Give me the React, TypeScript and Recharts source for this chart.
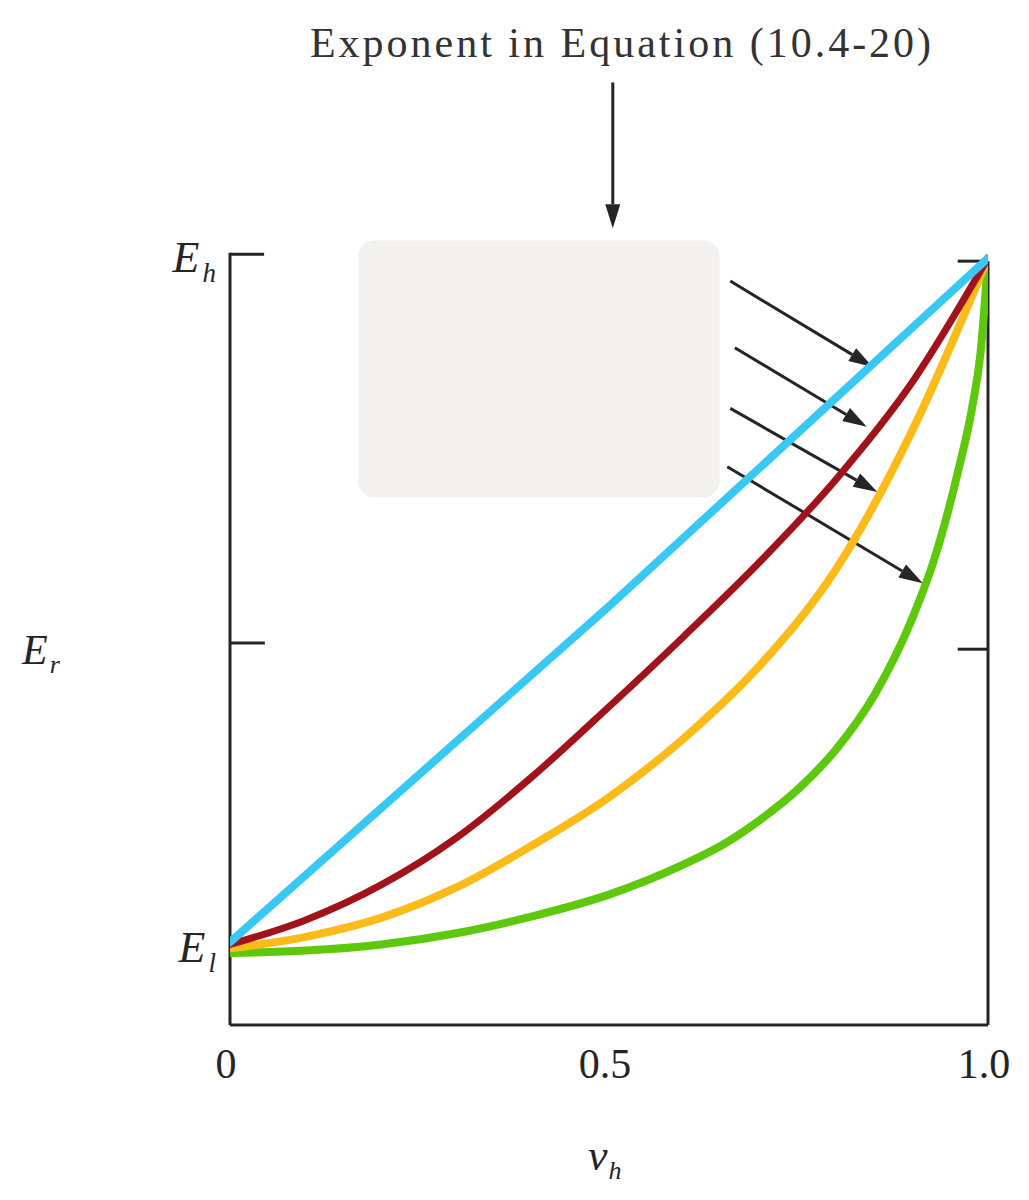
import React from 'react';
import { LineChart, Line, XAxis, YAxis, ReferenceLine, ReferenceArea } from 'recharts';

// ---- data (x = v_h, y = normalised E_r, E_l ~ 0.1, E_h = 1) ----
const gridT = [0, 0.1, 0.2, 0.3, 0.4, 0.5, 0.6, 0.7, 0.8, 0.9, 1.0];
const redValues = [0.105, 0.137, 0.183, 0.245, 0.325, 0.415, 0.508, 0.605, 0.712, 0.838, 1.0];
const yellowValues = [0.1, 0.115, 0.14, 0.18, 0.235, 0.297, 0.375, 0.47, 0.595, 0.775, 1.0];
const greenT = [0, 0.1, 0.2, 0.3, 0.4, 0.5, 0.6, 0.65, 0.7, 0.75, 0.8, 0.85, 0.9, 0.93, 0.96, 0.98, 0.99, 1.0];
const greenValues = [0.094, 0.097, 0.105, 0.12, 0.142, 0.17, 0.21, 0.235, 0.268, 0.308, 0.36, 0.43, 0.53, 0.61, 0.72, 0.81, 0.875, 1.0];
const blueT = [0, 0.5, 1.0];
const blueValues = [0.108, 0.546, 1.0];

const xTicks = [0, 0.5, 1.0];
const xTickLabels = ['0', '0.5', '1.0'];
const yTicks = [0.1, 1.0];
const yTickSubscripts = ['l', 'h'];

const titleText = 'Exponent in Equation (10.4-20)';

// annotation arrows (data coordinates): start -> tip
const arrowStartT = [0.66, 0.666, 0.66, 0.656];
const arrowStartV = [0.97, 0.883, 0.804, 0.728];
const arrowTipT = [0.848, 0.84, 0.854, 0.914];
const arrowTipV = [0.858, 0.78, 0.695, 0.576];
const titleArrow = { t: 0.505, from: 1.229, to: 1.039 };
const maskBox = { t1: 0.169, t2: 0.646, v1: 0.688, v2: 1.023 };

const build = (ts: number[], vs: number[]) => ts.map((t, i) => ({ t, v: vs[i] }));
const redData = build(gridT, redValues);
const yellowData = build(gridT, yellowValues);
const greenData = build(greenT, greenValues);
const blueData = build(blueT, blueValues);

const SERIF = '"Liberation Serif", "DejaVu Serif", serif';
const INK = '#252525';

const ArrowShape = (p: any) => {
  const { x1, y1, x2, y2 } = p;
  if ([x1, y1, x2, y2].some((v) => typeof v !== 'number' || isNaN(v))) return null;
  const dx = x2 - x1;
  const dy = y2 - y1;
  const len = Math.sqrt(dx * dx + dy * dy) || 1;
  const ux = dx / len;
  const uy = dy / len;
  const headL = 24;
  const headW = 7.5;
  const bx = x2 - ux * headL;
  const by = y2 - uy * headL;
  const pts = `${x2},${y2} ${bx - uy * headW},${by + ux * headW} ${bx + uy * headW},${by - ux * headW}`;
  return (
    <g>
      <line x1={x1} y1={y1} x2={bx} y2={by} stroke={INK} strokeWidth={3} />
      <polygon points={pts} fill={INK} />
    </g>
  );
};

const XTick = (p: any) => {
  const { x, y, payload } = p;
  const idx = xTicks.indexOf(payload.value);
  return (
    <text x={x - 4} y={y + 45} textAnchor="middle" fontFamily={SERIF} fontSize={42} fill={INK}>
      {idx >= 0 ? xTickLabels[idx] : ''}
    </text>
  );
};

const YTick = (p: any) => {
  const { x, y, payload } = p;
  const idx = yTicks.indexOf(payload.value);
  return (
    <text x={x - 6} y={y + 14} textAnchor="end" fontFamily={SERIF} fontStyle="italic" fontSize={44} fill={INK}>
      E
      <tspan fontSize={27} dy={10} dx={3}>
        {idx >= 0 ? yTickSubscripts[idx] : ''}
      </tspan>
    </text>
  );
};

const MaskShape = (p: any) => (
  <rect x={p.x} y={p.y} width={p.width} height={p.height} rx={16} ry={16} fill="#f2f1f0" />
);

export default function App() {
  return (
    <div style={{ position: 'absolute', left: 0, top: 0, width: 1029, height: 1200, background: '#fff' }}>
      <LineChart
        width={1029}
        height={1200}
        margin={{ top: 28, right: 41, bottom: 0, left: 0 }}
        style={{ position: 'absolute', left: 0, top: 0 }}
      >
        <XAxis
          dataKey="t"
          type="number"
          domain={[0, 1]}
          ticks={xTicks}
          height={175}
          axisLine={{ stroke: INK, strokeWidth: 3 }}
          tickLine={false}
          tick={<XTick />}
          allowDataOverflow
        />
        <YAxis
          dataKey="v"
          type="number"
          domain={[0, 1.3]}
          ticks={yTicks}
          width={230}
          axisLine={false}
          tickLine={false}
          tick={<YTick />}
          allowDataOverflow
        />
        {/* frame: left and right axes with short tick marks */}
        <ReferenceLine segment={[{ x: 0, y: 0 }, { x: 0, y: 1.007 }]} stroke={INK} strokeWidth={3} />
        <ReferenceLine segment={[{ x: 0, y: 1.005 }, { x: 0.045, y: 1.005 }]} stroke={INK} strokeWidth={3} />
        <ReferenceLine segment={[{ x: 0, y: 0.498 }, { x: 0.046, y: 0.498 }]} stroke={INK} strokeWidth={3} />
        <ReferenceLine segment={[{ x: 1, y: 0 }, { x: 1, y: 0.996 }]} stroke={INK} strokeWidth={3} />
        <ReferenceLine segment={[{ x: 0.96, y: 0.996 }, { x: 1, y: 0.996 }]} stroke={INK} strokeWidth={3} />
        <ReferenceLine segment={[{ x: 0.96, y: 0.49 }, { x: 1, y: 0.49 }]} stroke={INK} strokeWidth={3} />

        <ReferenceArea
          x1={maskBox.t1}
          x2={maskBox.t2}
          y1={maskBox.v1}
          y2={maskBox.v2}
          shape={<MaskShape />}
        />

        <ReferenceLine
          segment={[{ x: titleArrow.t, y: titleArrow.from }, { x: titleArrow.t, y: titleArrow.to }]}
          shape={ArrowShape}
        />
        {arrowStartT.map((t, i) => (
          <ReferenceLine
            key={'arr' + i}
            segment={[{ x: t, y: arrowStartV[i] }, { x: arrowTipT[i], y: arrowTipV[i] }]}
            shape={ArrowShape}
          />
        ))}

        <Line data={greenData} dataKey="v" type="monotone" stroke="#5ec80c" strokeWidth={8} dot={false} strokeLinecap="round" isAnimationActive={false} />
        <Line data={yellowData} dataKey="v" type="monotone" stroke="#fdbb1a" strokeWidth={8} dot={false} strokeLinecap="round" isAnimationActive={false} />
        <Line data={redData} dataKey="v" type="monotone" stroke="#a2121b" strokeWidth={7} dot={false} strokeLinecap="round" isAnimationActive={false} />
        <Line data={blueData} dataKey="v" type="linear" stroke="#38c8f4" strokeWidth={8} dot={false} strokeLinecap="round" isAnimationActive={false} />
      </LineChart>

      <svg width={1029} height={1200} style={{ position: 'absolute', left: 0, top: 0, pointerEvents: 'none' }}>
        <text x={622} y={57} textAnchor="middle" fontFamily={SERIF} fontSize={42} letterSpacing={3} fill="#333">
          {titleText}
        </text>
        <text x={22} y={664} fontFamily={SERIF} fontStyle="italic" fontSize={42} fill={INK}>
          E<tspan fontSize={26} dy={9} dx={2}>r</tspan>
        </text>
        <text x={588} y={1170} fontFamily={SERIF} fontStyle="italic" fontSize={44} fill={INK}>
          v<tspan fontSize={26} dy={9} dx={1}>h</tspan>
        </text>
      </svg>
    </div>
  );
}
